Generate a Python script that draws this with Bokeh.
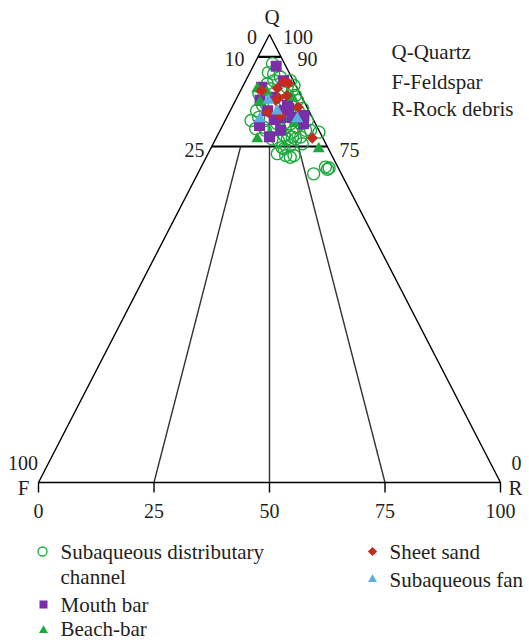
import numpy as np
from bokeh.plotting import figure
from bokeh.models import Range1d
from bokeh.embed import file_html
from bokeh.resources import INLINE
from bokeh.core.properties import value

# ---------------- data (percent): Q = quartz, R = rock debris, F = 100 - Q - R
sdc_Q = [93.5, 91.2, 89.7, 90.5, 88.2, 87.5, 88.6, 86.4, 85.3, 87.9, 89.0, 86.4, 86.8,
         85.3, 84.9, 82.7, 81.9, 80.1, 79.3, 80.1, 79.0, 78.6, 81.5, 83.8, 80.1, 77.5,
         76.3, 77.1, 77.1, 78.6, 75.6, 75.2, 74.8, 73.0, 73.0, 73.4, 80.8, 78.6, 80.8,
         79.0, 79.3, 78.2, 68.9, 70.4, 70.2, 69.9, 79.3, 78.2, 79.3, 76.7, 76.7, 74.5,
         72.6, 76.7, 83.5, 89.7, 83.0, 84.2, 87.1, 91.5, 82.4, 80.8]
sdc_R = [3.9, 5.3, 6.1, 7.1, 9.7, 11.2, 11.0, 12.4, 13.4, 6.3, 5.0, 5.6, 4.3,
         10.5, 12.1, 15.0, 14.3, 14.5, 13.8, 11.6, 11.5, 9.8, 6.9, 8.3, 16.7, 14.4,
         13.8, 16.4, 18.2, 19.6, 19.3, 16.9, 15.3, 18.8, 17.0, 15.0, 17.8, 18.5, 5.6,
         7.5, 9.1, 21.6, 25.1, 26.9, 27.8, 27.6, 11.6, 15.8, 16.3, 15.5, 17.3, 15.9,
         18.2, 12.2, 15.4, 9.7, 5.7, 6.4, 9.3, 4.0, 13.2, 8.7]

mouth_Q = [92.9, 89.7, 88.2, 85.3, 83.0, 83.0, 83.5, 81.5, 81.0, 81.4, 81.9, 80.1,
           79.7, 78.6, 77.2, 84.2, 86.0]
mouth_R = [5.0, 8.2, 4.2, 5.3, 8.1, 11.6, 12.4, 14.1, 10.5, 11.7, 16.5, 17.3,
           8.0, 13.1, 11.4, 11.8, 7.6]

beach_Q = [87.9, 87.1, 84.9, 86.0, 76.7, 74.5, 80.1]
beach_R = [3.4, 5.9, 5.5, 11.9, 9.0, 23.4, 15.3]

sheet_Q = [89.4, 89.1, 87.5, 88.0, 86.4, 85.8, 85.3, 83.8, 82.6, 81.9, 76.9]
sheet_R = [8.4, 9.6, 4.5, 7.7, 10.6, 9.1, 8.7, 14.3, 8.4, 11.4, 20.8]

fan_Q = [85.3, 82.9, 81.2, 81.2]
fan_R = [7.1, 10.2, 7.3, 15.4]

base_ticks = [0, 25, 50, 75, 100]
base_tick_labels = ["0", "25", "50", "75", "100"]
q_levels = [95, 75]
q_left_labels = ["10", "25"]
q_right_labels = ["90", "75"]
series_names = ["Subaqueous distributary\nchannel", "Mouth bar", "Beach-bar",
                "Sheet sand", "Subaqueous fan"]
notes = ["Q-Quartz", "F-Feldspar", "R-Rock debris"]

# ---------------- colours / fonts
GREEN = "#1aaa3c"
PURPLE = "#7a2ea8"
RED = "#c42b1f"
BLUE = "#5aaee0"
TXT = "#231f20"
FONT = value("Liberation Serif")
FS_NUM = "20px"
FS_TXT = "21px"


def tern(Q, R):
    Q = np.asarray(Q, float)
    R = np.asarray(R, float)
    return R + Q / 2.0, Q


# picture pixel layout -> data units (layout only)
X0, XS = 38.0, 4.62     # px of F corner, px per unit
Y0, YS = 482.0, 4.48    # px of base line, px per unit
W, H = 529, 642
OFF = 0                 # picture px of figure's top-left corner


def at(px, py):
    return (px - X0) / XS, (Y0 - py) / YS


xs0 = (OFF - X0) / XS
ys1 = (Y0 - OFF) / YS
p = figure(width=W, height=H, output_backend="svg", toolbar_location=None,
           x_range=Range1d(xs0, xs0 + W / XS), y_range=Range1d(ys1 - H / YS, ys1),
           min_border=0, outline_line_color=None)
p.xaxis.visible = False
p.yaxis.visible = False
p.grid.visible = False
p.background_fill_color = "white"

# ---------------- frame of the ternary diagram
p.line([0, 100, 50, 0], [0, 0, 100, 0], line_color="black", line_width=1.4)
for q in q_levels:
    p.line([q / 2, 100 - q / 2], [q, q], line_color="black", line_width=2.2)
# lines from base points toward apex, stopped at Q = 75
for b in base_ticks[1:-1]:
    xt = b + 0.75 * (50 - b)
    p.line([b, xt], [0, 75], line_color="#333333", line_width=1.4)
# ticks under base
for b in base_ticks:
    p.line([b, b], [0, -10 / YS], line_color="black", line_width=1.4)

# ---------------- data points
x, y = tern(sdc_Q, sdc_R)
p.scatter(x, y, marker="circle", size=12, fill_color=None, line_color=GREEN, line_width=1.4)
x, y = tern(mouth_Q, mouth_R)
p.scatter(x, y, marker="square", size=11, fill_color=PURPLE, line_color=None)
x, y = tern(beach_Q, beach_R)
p.scatter(x, y, marker="triangle", size=12, fill_color=GREEN, line_color=None)
x, y = tern(sheet_Q, sheet_R)
p.scatter(x, y, marker="square", size=8, angle=np.pi / 4, fill_color=RED, line_color=None)
x, y = tern(fan_Q, fan_R)
p.scatter(x, y, marker="triangle", size=12, fill_color=BLUE, line_color=None)


# ---------------- texts
def txt(px, py, s, align="center", fs=FS_NUM):
    xx, yy = at(px, py)
    p.text([xx], [yy], text=[s], text_font=FONT, text_font_size=fs, text_color=TXT,
           text_align=align, text_baseline="middle")


txt(271.5, 16, "Q", fs=FS_TXT)
txt(251.5, 36, "0")
txt(297.5, 36, "100")
txt(234, 58, q_left_labels[0])
txt(307, 58, q_right_labels[0])
txt(194, 149, q_left_labels[1])
txt(349, 149, q_right_labels[1])
txt(22.5, 462, "100")
txt(23, 487, "F", fs=FS_TXT)
txt(516, 462, "0")
txt(515, 487, "R", fs=FS_TXT)
for b, lab in zip(base_ticks, base_tick_labels):
    p.text([b], [(Y0 - 510) / YS], text=[lab], text_font=FONT, text_font_size=FS_NUM,
           text_color=TXT, text_align="center", text_baseline="middle")

for s, py in zip(notes, [51, 81, 108]):
    txt(391, py, s, align="left", fs=FS_TXT)


# ---------------- legend (manual, two columns)
def lg_marker(px, py, **kw):
    xx, yy = at(px, py)
    p.scatter([xx], [yy], **kw)


lg_marker(42, 551, marker="circle", size=9, fill_color=None, line_color=GREEN, line_width=1.3)
txt(60, 551, series_names[0].split("\n")[0], align="left", fs=FS_TXT)
txt(60, 576, series_names[0].split("\n")[1], align="left", fs=FS_TXT)
lg_marker(43, 604, marker="square", size=8, fill_color=PURPLE, line_color=None)
txt(60, 604, series_names[1], align="left", fs=FS_TXT)
lg_marker(43, 630, marker="triangle", size=9, fill_color=GREEN, line_color=None)
txt(60, 628, series_names[2], align="left", fs=FS_TXT)
lg_marker(372, 551, marker="square", size=6.5, angle=np.pi / 4, fill_color=RED, line_color=None)
txt(389, 551, series_names[3], align="left", fs=FS_TXT)
lg_marker(372, 579, marker="triangle", size=9, fill_color=BLUE, line_color=None)
txt(389, 579, series_names[4], align="left", fs=FS_TXT)

open("out.html", "w").write(file_html(p, INLINE))
